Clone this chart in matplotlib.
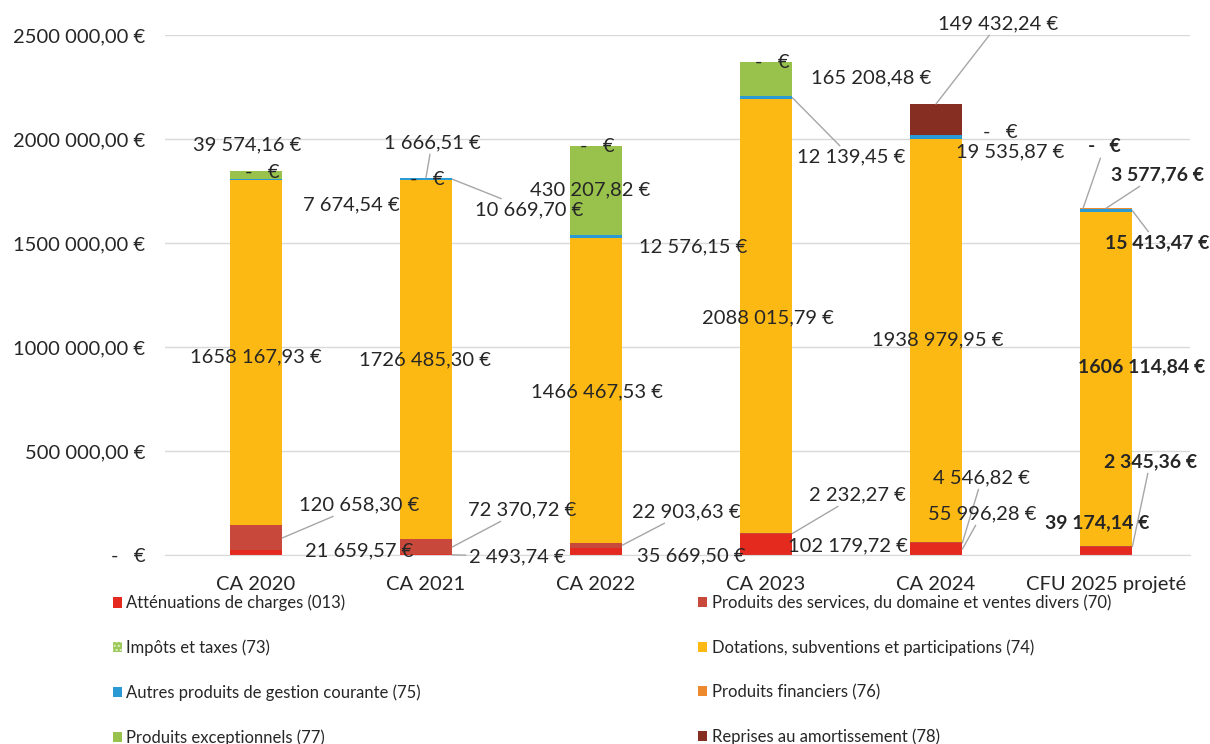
import numpy as np
import matplotlib
matplotlib.use("Agg")
from matplotlib import pyplot as plt
from matplotlib.patches import Patch

plt.rcParams['font.family'] = ['Lato', 'DejaVu Sans']

categories = ['CA 2020', 'CA 2021', 'CA 2022', 'CA 2023', 'CA 2024', 'CFU 2025 projeté']

v013 = [21659.57, 2493.74, 35669.50, 102179.72, 55996.28, 39174.14]
v70 = [120658.30, 72370.72, 22903.63, 2232.27, 4546.82, 2345.36]
v73 = [0, 0, 0, 0, 0, 0]
v74 = [1658167.93, 1726485.30, 1466467.53, 2088015.79, 1938979.95, 1606114.84]
v75 = [7674.54, 10669.70, 12576.15, 12139.45, 19535.87, 15413.47]
v76 = [0, 0, 0, 0, 0, 3577.76]
v77 = [39574.16, 1666.51, 430207.82, 165208.48, 0, 0]
v78 = [0, 0, 0, 0, 149432.24, 0]

series_names = ['Atténuations de charges (013)',
                'Produits des services, du domaine et ventes divers (70)',
                'Impôts et taxes (73)',
                'Dotations, subventions et participations (74)',
                'Autres produits de gestion courante (75)',
                'Produits financiers (76)',
                'Produits exceptionnels (77)',
                'Reprises au amortissement (78)']
series_vals = [v013, v70, v73, v74, v75, v76, v77, v78]
colors = ['#E42A1E', '#C8483B', '#9CC95A', '#FDB913', '#2A9AD4',
          '#EE8A2E', '#98C24C', '#862E22']

yticks = [0, 500000, 1000000, 1500000, 2000000, 2500000]


def fmt_eur(v):
    if v == 0:
        return '-   €'
    s = f"{v:,.2f}"
    ip, dp = s.split('.')
    parts = ip.split(',')
    if len(parts) > 2:
        parts = [''.join(parts[:-1]), parts[-1]]
    return ' '.join(parts) + ',' + dp + ' €'


# label layout: (category, series index, text x, text y, leader anchor)
labels = [
    (0, 6, -0.05, 1.971e6, None), (0, 5, 0.035, 1.841e6, None),
    (0, 4, 0.56, 1.683e6, None), (0, 3, 0.0, 0.952e6, None),
    (0, 1, 0.61, 0.240e6, 'r'), (0, 0, 0.61, 0.019e6, None),
    (1, 6, 1.035, 1.981e6, 't'), (1, 5, 1.01, 1.803e6, None),
    (1, 4, 1.61, 1.659e6, 'r'), (1, 3, 0.994, 0.9375e6, None),
    (1, 1, 1.565, 0.216e6, 'r'), (1, 0, 1.535, -0.0096e6, 'r'),
    (2, 5, 2.01, 1.962e6, None), (2, 6, 1.965, 1.755e6, None),
    (2, 4, 2.57, 1.481e6, None), (2, 3, 2.006, 0.784e6, None),
    (2, 1, 2.53, 0.207e6, 'r'), (2, 0, 2.56, -0.005e6, None),
    (3, 5, 3.035, 2.370e6, None), (3, 6, 3.62, 2.293e6, None),
    (3, 4, 3.5, 1.913e6, 'r'), (3, 3, 3.01, 1.139e6, None),
    (3, 1, 3.535, 0.288e6, 'r'), (3, 0, 3.48, 0.043e6, None),
    (4, 7, 4.365, 2.553e6, 't'), (4, 6, 4.38, 2.029e6, None),
    (4, 4, 4.435, 1.937e6, None), (4, 3, 4.01, 1.034e6, None),
    (4, 1, 4.27, 0.370e6, 'r'), (4, 0, 4.27, 0.197e6, 'r'),
    (5, 6, 4.99, 1.962e6, 'tl'), (5, 5, 5.3, 1.827e6, 't'),
    (5, 4, 5.3, 1.50e6, 'r'), (5, 3, 5.21, 0.904e6, None),
    (5, 1, 5.26, 0.447e6, 'r'), (5, 0, 4.95, 0.154e6, None),
]

fig = plt.figure(figsize=(12.1, 7.44), dpi=100)
ax = fig.add_axes([165 / 1210, 1 - 555 / 744, 1025 / 1210, 520 / 744])

x = np.arange(len(categories))
w = 0.31
bottom = np.zeros(len(categories))
bottoms = []
handles = []
for k, (name, vals, c) in enumerate(zip(series_names, series_vals, colors)):
    vals = np.array(vals, dtype=float)
    hatch = '....' if k == 2 else None
    ax.bar(x, vals, w, bottom=bottom, color=c, label=name, hatch=hatch,
           edgecolor=c if k != 2 else '#ffffff', linewidth=0)
    bottoms.append(bottom.copy())
    handles.append(Patch(facecolor=c, hatch=hatch,
                         edgecolor='#dff0c8' if k == 2 else c, linewidth=0))
    bottom = bottom + vals

for i, k, tx, ty, anchor in labels:
    v = series_vals[k][i]
    b0 = bottoms[k][i]
    weight = 'bold' if i == 5 else 'normal'
    fs = 14 if i == 5 else 14.5
    if anchor is None:
        ax.text(tx, ty, fmt_eur(v), ha='center', va='center', fontsize=fs,
                color='#262626', fontweight=weight, clip_on=False)
        continue
    if anchor == 'r':
        xy = (i + w / 2, b0 + v / 2)
    elif anchor == 't':
        xy = (i, b0 + v)
    else:
        xy = (i - w / 2 + 0.02, b0 + v)
    ax.annotate(fmt_eur(v), xy=xy, xytext=(tx, ty), ha='center', va='center',
                fontsize=fs, color='#262626', fontweight=weight,
                arrowprops=dict(arrowstyle='-', color='#a6a6a6', lw=1,
                                shrinkA=0, shrinkB=0))

ax.set_xlim(-0.535, 5.494)
ax.set_ylim(0, 2500000)
ax.set_yticks(yticks)
ax.set_yticklabels([fmt_eur(t) for t in yticks], fontsize=14.5, color='#262626')
ax.set_xticks(x)
ax.set_xticklabels(categories, fontsize=14.5, color='#262626')
ax.tick_params(axis='both', length=0)
ax.tick_params(axis='y', pad=14)
ax.tick_params(axis='x', pad=15)
ax.grid(axis='y', color='#d9d9d9', lw=1)
ax.set_axisbelow(True)
for s in ['top', 'right', 'left']:
    ax.spines[s].set_visible(False)
ax.spines['bottom'].set_color('#d9d9d9')

col1 = [handles[i] for i in (0, 2, 4, 6)]
col2 = [handles[i] for i in (1, 3, 5, 7)]
lab1 = [series_names[i] for i in (0, 2, 4, 6)]
lab2 = [series_names[i] for i in (1, 3, 5, 7)]
for hs, ls, xa in ((col1, lab1, 0.0934), (col2, lab2, 0.577)):
    fig.legend(hs, ls, loc='upper left', bbox_to_anchor=(xa, 0.2005),
               frameon=False, fontsize=12, handlelength=0.55, handleheight=0.55,
               handletextpad=0.25, labelspacing=1.70, borderpad=0,
               borderaxespad=0, labelcolor='#262626')

fig.savefig('out.png', dpi=100)
